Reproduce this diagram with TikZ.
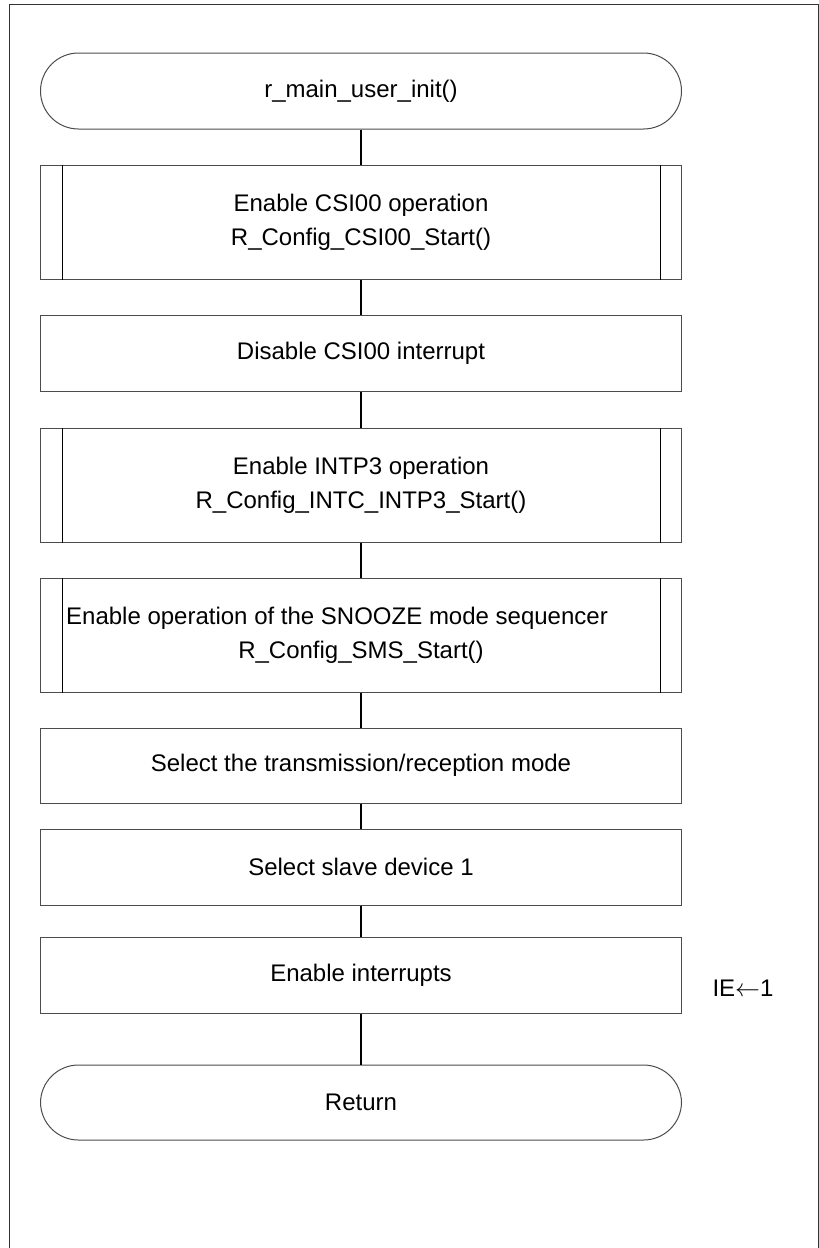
\documentclass[tikz,border=0pt]{standalone}
\usepackage{fontspec}
\setmainfont{Liberation Sans}
\begin{document}
\begin{tikzpicture}[x=1pt,y=-1pt,
  every node/.style={font=\fontsize{24}{34}\selectfont, inner sep=0pt, align=center},
  boxst/.style={draw=black!70, line width=1pt, minimum width=641pt, rectangle},
  termst/.style={boxst, rounded corners=38pt},
  inner/.style={draw=black, line width=1pt},
  conn/.style={draw=black, line width=2pt}
]
\useasboundingbox (0,0) rectangle (819,1248);
\draw[line width=1pt, black!80] (9,1248) -- (9,4) -- (818,4) -- (818,1248);

\node[termst, minimum height=76pt] (t1) at (361,91) {r\_main\_user\_init()};
\node[boxst, minimum height=114pt] (b1) at (361,222) {Enable CSI00 operation\\R\_Config\_CSI00\_Start()};
\node[boxst, minimum height=76pt] (b2) at (361,353) {Disable CSI00 interrupt};
\node[boxst, minimum height=114pt] (b3) at (361,485) {Enable INTP3 operation\\R\_Config\_INTC\_INTP3\_Start()};
\node[boxst, minimum height=114pt] (b4) at (361,635) {\hspace*{-48pt}Enable operation of the SNOOZE mode sequencer\\R\_Config\_SMS\_Start()};
\node[boxst, minimum height=75pt] (b5) at (361,765.5) {Select the transmission/reception mode};
\node[boxst, minimum height=76pt] (b6) at (361,867) {Select slave device 1};
\node[boxst, minimum height=76pt] (b7) at (361,975) {Enable interrupts};
\node[termst, minimum height=75pt] (t2) at (361,1102.5) {Return};
\node (ie) at (743,988) {IE$\leftarrow$1};

\foreach \n in {b1,b3,b4}{
  \draw[inner] ([xshift=22pt]\n.north west) -- ([xshift=22pt]\n.south west);
  \draw[inner] ([xshift=-22pt]\n.north east) -- ([xshift=-22pt]\n.south east);
}

\draw[conn] (t1) -- (b1);
\draw[conn] (b1) -- (b2);
\draw[conn] (b2) -- (b3);
\draw[conn] (b3) -- (b4);
\draw[conn] (b4) -- (b5);
\draw[conn] (b5) -- (b6);
\draw[conn] (b6) -- (b7);
\draw[conn] (b7) -- (t2);
\end{tikzpicture}
\end{document}
